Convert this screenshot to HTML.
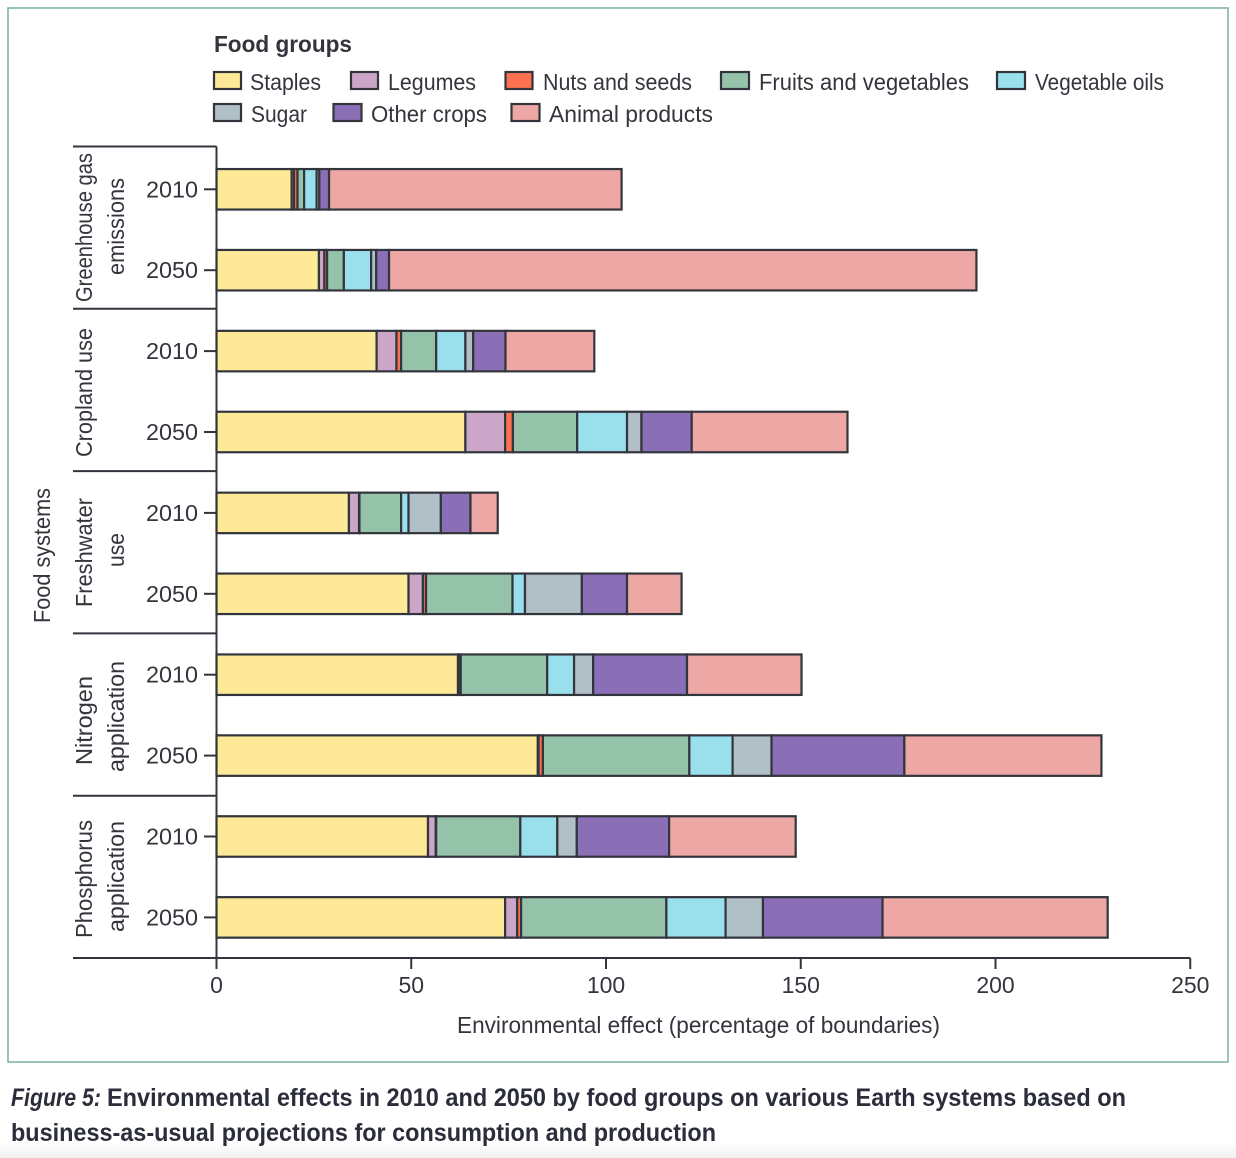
<!DOCTYPE html>
<html lang="en">
<head>
<meta charset="utf-8">
<title>Figure 5: Environmental effects by food group</title>
<style>
html,body{margin:0;padding:0;background:#fff;width:1236px;height:1158px;overflow:hidden}
svg{display:block}
text{font-family:"Liberation Sans",sans-serif;fill:#33353d;font-size:23px}
.b{font-weight:700}
.cap{font-weight:700;fill:#2b2d3a;font-size:25px}
.sw{stroke:#33353d;stroke-width:2.2}
.ln{stroke:#33353d;stroke-width:2;fill:none}
</style>
</head>
<body>
<svg id="chart" xmlns="http://www.w3.org/2000/svg" width="1236" height="1158" viewBox="0 0 1236 1158">
  <defs>
    <linearGradient id="fade" x1="0" y1="0" x2="0" y2="1">
      <stop offset="0" stop-color="#ffffff"/>
      <stop offset="1" stop-color="#f1f1f1"/>
    </linearGradient>
  </defs>
  <rect x="0" y="0" width="1236" height="1158" fill="#fff"/>
  <rect x="0" y="1142" width="1236" height="16" fill="url(#fade)"/>
  <rect x="8" y="8" width="1220" height="1054" fill="#fff" stroke="#7fb79c" stroke-width="1.6"/>

  <g>
    <text class="b" x="214" y="52" textLength="138" lengthAdjust="spacingAndGlyphs">Food groups</text>
    <g><rect class="sw" x="214" y="72" width="27" height="17" fill="#fde998"/><text x="250" y="90" textLength="71" lengthAdjust="spacingAndGlyphs">Staples</text></g>
    <g><rect class="sw" x="351" y="72" width="27" height="17" fill="#cba6c9"/><text x="388" y="90" textLength="88" lengthAdjust="spacingAndGlyphs">Legumes</text></g>
    <g><rect class="sw" x="505.500" y="72" width="27" height="17" fill="#fd7050"/><text x="543" y="90" textLength="149" lengthAdjust="spacingAndGlyphs">Nuts and seeds</text></g>
    <g><rect class="sw" x="721" y="72" width="28" height="17" fill="#95c3a9"/><text x="759" y="90" textLength="210" lengthAdjust="spacingAndGlyphs">Fruits and vegetables</text></g>
    <g><rect class="sw" x="997" y="72" width="28" height="17" fill="#9ae0ec"/><text x="1035" y="90" textLength="129" lengthAdjust="spacingAndGlyphs">Vegetable oils</text></g>
    <g><rect class="sw" x="214" y="104" width="27" height="17" fill="#b1c0c7"/><text x="251" y="122" textLength="56" lengthAdjust="spacingAndGlyphs">Sugar</text></g>
    <g><rect class="sw" x="333.500" y="104" width="28" height="17" fill="#8a6fb7"/><text x="371" y="122" textLength="116" lengthAdjust="spacingAndGlyphs">Other crops</text></g>
    <g><rect class="sw" x="511.500" y="104" width="28" height="17" fill="#eda8a6"/><text x="549" y="122" textLength="164" lengthAdjust="spacingAndGlyphs">Animal products</text></g>
  </g>

  <g id="plot"></g>

  <g>
    <text transform="translate(50,623) rotate(-90)" textLength="135" lengthAdjust="spacingAndGlyphs">Food systems</text>
    <text transform="translate(92,302) rotate(-90)" textLength="149" lengthAdjust="spacingAndGlyphs">Greenhouse gas</text>
    <text transform="translate(124,275) rotate(-90)" textLength="97" lengthAdjust="spacingAndGlyphs">emissions</text>
    <text transform="translate(92,457) rotate(-90)" textLength="129" lengthAdjust="spacingAndGlyphs">Cropland use</text>
    <text transform="translate(92,607) rotate(-90)" textLength="109" lengthAdjust="spacingAndGlyphs">Freshwater</text>
    <text transform="translate(124,567) rotate(-90)" textLength="34" lengthAdjust="spacingAndGlyphs">use</text>
    <text transform="translate(92,765) rotate(-90)" textLength="89" lengthAdjust="spacingAndGlyphs">Nitrogen</text>
    <text transform="translate(124,772) rotate(-90)" textLength="111" lengthAdjust="spacingAndGlyphs">application</text>
    <text transform="translate(92,938) rotate(-90)" textLength="118" lengthAdjust="spacingAndGlyphs">Phosphorus</text>
    <text transform="translate(124,932) rotate(-90)" textLength="111" lengthAdjust="spacingAndGlyphs">application</text>
  </g>

  <text x="457" y="1033" textLength="483" lengthAdjust="spacingAndGlyphs">Environmental effect (percentage of boundaries)</text>

  <g>
    <text class="cap" style="font-style:italic" x="11" y="1106" textLength="90" lengthAdjust="spacingAndGlyphs">Figure 5:</text>
    <text class="cap" x="107" y="1106" textLength="1019" lengthAdjust="spacingAndGlyphs">Environmental effects in 2010 and 2050 by food groups on various Earth systems based on</text>
    <text class="cap" x="11" y="1141" textLength="705" lengthAdjust="spacingAndGlyphs">business-as-usual projections for consumption and production</text>
  </g>
</svg>

<script>
// Row order: GHG 2010, GHG 2050, cropland 2010, cropland 2050, freshwater 2010,
// freshwater 2050, nitrogen 2010, nitrogen 2050, phosphorus 2010, phosphorus 2050
const rowLabels = ["2010","2050","2010","2050","2010","2050","2010","2050","2010","2050"];
const rowSlugs = ["greenhouse-2010","greenhouse-2050","cropland-2010","cropland-2050","freshwater-2010","freshwater-2050","nitrogen-2010","nitrogen-2050","phosphorus-2010","phosphorus-2050"];
const xTicks = [0,50,100,150,200,250];

const seriesNames = ["staples","legumes","nuts-and-seeds","fruits-and-vegetables","vegetable-oils","sugar","other-crops","animal-products"];
const seriesColors = ["#fde998","#cba6c9","#fd7050","#95c3a9","#9ae0ec","#b1c0c7","#8a6fb7","#eda8a6"];

const staples = [19.3,26.3,41.1,63.9,34.0,49.3,62.0,82.5,54.3,74.1];
const legumes = [0.6,1.4,5.1,10.2,2.6,3.7,0.1,0.2,2.0,3.1];
const nutsAndSeeds = [0.9,0.7,1.2,2.0,0.1,0.8,0.6,1.1,0.1,1.0];
const fruitsAndVegetables = [1.7,4.3,9.0,16.5,10.7,22.2,22.2,37.6,21.6,37.3];
const vegetableOils = [3.2,7.0,7.5,12.8,1.9,3.2,6.9,11.1,9.5,15.2];
const sugar = [0.7,1.3,2.0,3.7,8.3,14.6,4.9,10.0,5.0,9.6];
const otherCrops = [2.5,3.3,8.3,12.9,7.6,11.6,24.1,34.1,23.7,30.7];
const animalProducts = [75.1,150.8,22.8,40.0,7.0,14.0,29.4,50.6,32.5,57.8];

const seriesValues = [staples,legumes,nutsAndSeeds,fruitsAndVegetables,vegetableOils,sugar,otherCrops,animalProducts];

const NS = "http://www.w3.org/2000/svg";
const plot = document.getElementById("plot");
const X0 = 216.5, PX_PER_UNIT = 3.895;
const ROW0 = 189.3, ROW_STEP = 80.9, BAR_H = 40.5;
const AXIS_Y = 958, GROUP_TOP = 146.5, GROUP_STEP = 162.3;
function xScale(v){ return X0 + v * PX_PER_UNIT; }
function yScale(i){ return ROW0 + i * ROW_STEP; }
function make(tag, attrs){
  const el = document.createElementNS(NS, tag);
  for (const k in attrs) el.setAttribute(k, attrs[k]);
  return el;
}

// group separators: one above each pair of rows, then the axis line
for (let g = 0; g < 5; g++) {
  const yy = GROUP_TOP + g * GROUP_STEP;
  const sep = make("line", {x1: 73, x2: X0, y1: yy, y2: yy, class: "ln"});
  
  
  plot.appendChild(sep);
}
const yAxis = make("line", {x1: X0, x2: X0, y1: GROUP_TOP, y2: AXIS_Y + 11, class: "ln"});


plot.appendChild(yAxis);
const xAxis = make("line", {x1: 73, x2: xScale(250), y1: AXIS_Y, y2: AXIS_Y, class: "ln"});


plot.appendChild(xAxis);

// x ticks
xTicks.forEach(function(t){
  const tx = xScale(t);
  const tick = make("line", {x1: tx, x2: tx, y1: AXIS_Y, y2: AXIS_Y + 11, class: "ln"});
  
  
  plot.appendChild(tick);
  const lab = make("text", {x: tx, y: 993, "text-anchor": "middle"});
  
  
  lab.textContent = String(t);
  plot.appendChild(lab);
});

// rows
rowLabels.forEach(function(label, i){
  const cy = yScale(i);
  const tick = make("line", {x1: 204, x2: X0, y1: cy, y2: cy, class: "ln"});
  
  
  plot.appendChild(tick);
  const lab = make("text", {x: 146, y: cy + 8, textLength: 52, lengthAdjust: "spacingAndGlyphs"});
  
  
  lab.textContent = label;
  plot.appendChild(lab);

  const group = make("g", {});
  
  
  let acc = 0;
  seriesValues.forEach(function(values, s){
    const v = values[i];
    const seg = make("rect", {
      x: xScale(acc), y: cy - BAR_H / 2,
      width: xScale(acc + v) - xScale(acc), height: BAR_H,
      fill: seriesColors[s], stroke: "#33353d", "stroke-width": 2.2
    });
    
    
    group.appendChild(seg);
    acc += v;
  });
  plot.appendChild(group);
});
</script>
</body>
</html>
